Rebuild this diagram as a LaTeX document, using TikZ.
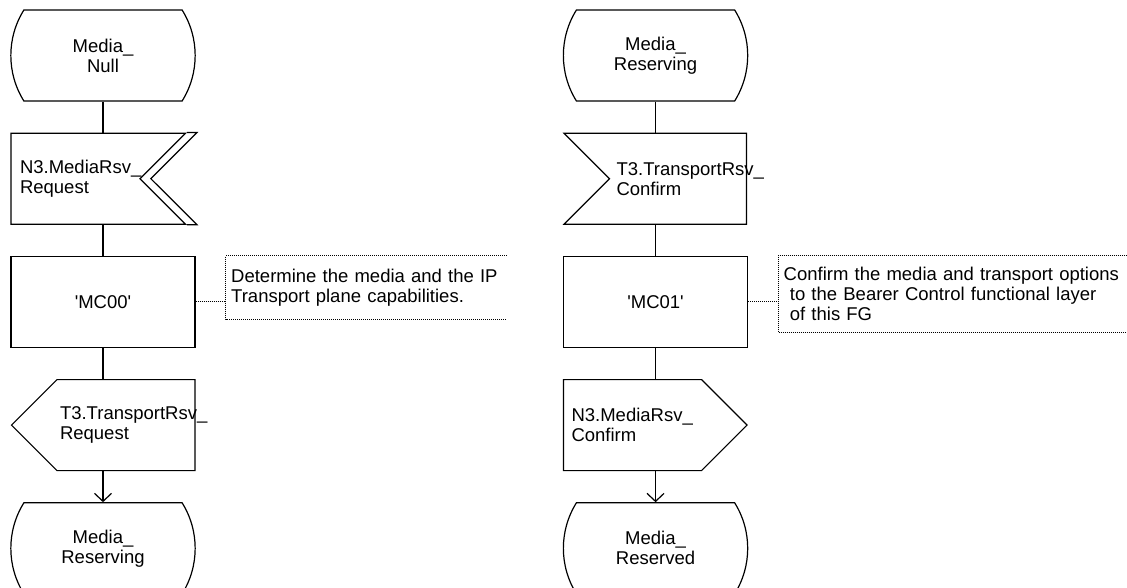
\documentclass[tikz,border=0pt]{standalone}
\usepackage{fontspec}
\setmainfont{Liberation Sans}
\usetikzlibrary{shapes.misc, shapes.symbols, arrows.meta, positioning, calc}

\begin{document}
\begin{tikzpicture}[
    x=1pt, y=1pt,
    node distance=31pt,
    line width=1.2pt,
    font=\fontsize{18.5}{20}\selectfont,
    sdlstate/.style={rounded rectangle, rounded rectangle arc length=64, draw,
                 minimum width=191pt, minimum height=91pt, align=center},
    sdltask/.style={rectangle, draw, minimum width=184pt, minimum height=91pt,
                 align=center},
    sdlinput/.style={signal, signal to=nowhere, signal from=#1, draw,
                 minimum height=91pt, inner xsep=7pt, text width=123pt, align=left},
    sdloutput/.style={signal, signal to=#1, draw,
                 minimum height=91pt, inner xsep=7pt, text width=123pt, align=left},
    comment/.style={inner xsep=5pt, align=left},
    commentline/.style={line width=1pt, dash pattern=on 1pt off 1pt},
    arrow/.style={-{Straight Barb[length=8pt, width=17pt]}}
]
\useasboundingbox (0,0) rectangle (1127,-588);

% left process
\node[sdlstate] (null) at (103,-55.5) {Media\_\\Null};
\node[sdlinput=east, below=of null, xshift=-27.5pt, inner xsep=9pt, text width=111pt] (rsvreq)
    {N3.MediaRsv\_\\Request};
\node[sdltask, below=of null |- rsvreq.south] (mc00) {\textquotesingle MC00\textquotesingle};
\node[sdloutput=west, below=of mc00, xshift=23pt, inner xsep=3pt, text width=132pt] (trreq)
    {T3.TransportRsv\_\\Request};
\node[sdlstate, below=of mc00 |- trreq.south] (reserving) {Media\_\\Reserving};
\node[comment, text width=270pt, minimum height=62pt, right=30pt of mc00, yshift=14.5pt] (c00)
    {Determine the media and the IP\\Transport plane capabilities.};

% right process
\node[sdlstate, right=367pt of null] (rsving) {Media\_\\Reserving};
\node[sdlinput=west, below=of rsving, xshift=22.5pt] (trcnf) {T3.TransportRsv\_\\Confirm};
\node[sdltask, below=of rsving |- trcnf.south] (mc01) {\textquotesingle MC01\textquotesingle};
\node[sdloutput=east, below=of mc01, xshift=-23pt, inner xsep=8pt, text width=122pt] (rsvcnf)
    {N3.MediaRsv\_\\Confirm};
\node[sdlstate, below=of mc01 |- rsvcnf.south] (reserved) {Media\_\\Reserved};
\node[comment, text width=350pt, minimum height=75pt, right=30pt of mc01, yshift=8pt] (c01)
    {Confirm the media and transport options\\\mbox{} to the Bearer Control functional layer\\\mbox{} of this FG};

% second notch line of the input
\draw (rsvreq.north east) -- ++(10,0) -- ($(rsvreq.east)+(10,0)$)
    -- ($(rsvreq.south east)+(10,0)$) -- (rsvreq.south east);

\draw (null.south) -- (null.south |- rsvreq.north);
\draw (mc00.north |- rsvreq.south) -- (mc00.north);
\draw (mc00.south) -- (mc00.south |- trreq.north);
\draw[arrow] (reserving.north |- trreq.south) -- (reserving.north);
\draw[commentline] (mc00.east) -- (c00.west |- mc00.east);
\draw[commentline] (c00.north east) -- (c00.north west) -- (c00.south west) -- (c00.south east);

\draw (rsving.south) -- (rsving.south |- trcnf.north);
\draw (mc01.north |- trcnf.south) -- (mc01.north);
\draw (mc01.south) -- (mc01.south |- rsvcnf.north);
\draw[arrow] (reserved.north |- rsvcnf.south) -- (reserved.north);
\draw[commentline] (mc01.east) -- (c01.west |- mc01.east);
\draw[commentline] (c01.north east) -- (c01.north west) -- (c01.south west) -- (c01.south east);
\end{tikzpicture}
\end{document}
